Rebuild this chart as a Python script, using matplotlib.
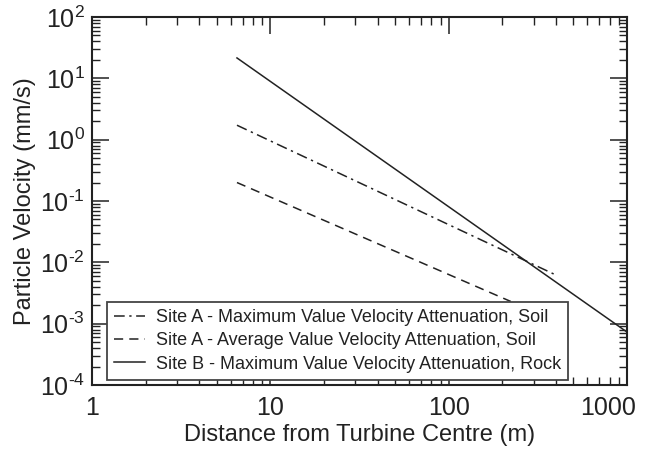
import numpy as np
import matplotlib
matplotlib.use("Agg")
import matplotlib.pyplot as plt
import matplotlib.transforms as mtransforms
from matplotlib.ticker import LogLocator, NullFormatter

plt.rcParams["font.family"] = ["Liberation Sans", "DejaVu Sans"]
plt.rcParams["mathtext.fontset"] = "custom"
plt.rcParams["mathtext.rm"] = "Liberation Sans"

# ================================
# DATA
# ================================
dist_max_soil = [6.5, 400]
ppv_max_soil = [1.72, 6.2e-3]

dist_avg_soil = [6.5, 223]
ppv_avg_soil = [0.20, 2.3e-3]

dist_max_rock = [6.5, 1000]
ppv_max_rock = [21.5, 7.3e-4]

labels = [
    "Site A - Maximum Value Velocity Attenuation, Soil",
    "Site A - Average Value Velocity Attenuation, Soil",
    "Site B - Maximum Value Velocity Attenuation, Rock",
]

x_ticks = [1, 10, 100, 1000]
x_ticklabels = ["1", "10", "100", "1000"]
y_exponents = [-4, -3, -2, -1, 0, 1, 2]


def exp_label(e):
    # plain hyphen in the exponent, like the original figure
    if e < 0:
        return r"$\mathregular{10^{\text{-}%d}}$" % abs(e)
    return r"$\mathregular{10^{%d}}$" % e


# ================================
# PLOT
# ================================
fig = plt.figure(figsize=(6.45, 4.5), dpi=100)
ax = fig.add_axes([92 / 645, 1 - 385 / 450, 535 / 645, 368 / 450])

ax.plot(dist_max_soil, ppv_max_soil, color="#222222", lw=1.1,
        linestyle=(0, (7, 3, 1.5, 3)), label=labels[0])
ax.plot(dist_avg_soil, ppv_avg_soil, color="#222222", lw=1.1,
        linestyle=(0, (6, 4)), label=labels[1])
ax.plot(dist_max_rock, ppv_max_rock, color="#222222", lw=1.1,
        linestyle="-", label=labels[2])

ax.set_xscale("log")
ax.set_yscale("log")
ax.set_xlim(1, 1000)
ax.set_ylim(1e-4, 1e2)

ax.xaxis.set_minor_locator(LogLocator(base=10, subs=np.arange(2, 10), numticks=20))
ax.yaxis.set_minor_locator(LogLocator(base=10, subs=np.arange(2, 10), numticks=20))
ax.xaxis.set_minor_formatter(NullFormatter())
ax.yaxis.set_minor_formatter(NullFormatter())
ax.set_xticks(x_ticks)
ax.set_xticklabels(x_ticklabels)
ax.set_yticks([10.0 ** e for e in y_exponents])
ax.set_yticklabels([exp_label(e) for e in y_exponents])

ax.tick_params(which="both", direction="in", top=True, right=True, colors="#222222")
ax.tick_params(which="major", length=12, width=1.1, labelsize=18)
ax.tick_params(axis="x", which="major", pad=8)
ax.tick_params(axis="y", which="major", pad=5)
ax.tick_params(which="minor", length=6, width=1.0)
for s in ax.spines.values():
    s.set_linewidth(1.5)
    s.set_color("#222222")

# last x label sits left of its tick, as in the original
last = ax.get_xticklabels()[-1]
last.set_transform(last.get_transform() +
                   mtransforms.ScaledTranslation(-19 / 100, 0, fig.dpi_scale_trans))

ax.set_xlabel("Distance from Turbine Centre (m)", fontsize=17, color="#222222", labelpad=3)
ax.set_ylabel("Particle Velocity (mm/s)", fontsize=17, color="#222222", labelpad=3)

leg = ax.legend(loc="lower left", bbox_to_anchor=(15 / 535, 5 / 368), borderaxespad=0,
                fontsize=13, fancybox=False, framealpha=1, edgecolor="#444444",
                handlelength=1.7, handletextpad=0.6, borderpad=0.4, labelspacing=0.35)
leg.get_frame().set_linewidth(1.3)
for t in leg.get_texts():
    t.set_color("#222222")

fig.savefig("out.png", dpi=100)
